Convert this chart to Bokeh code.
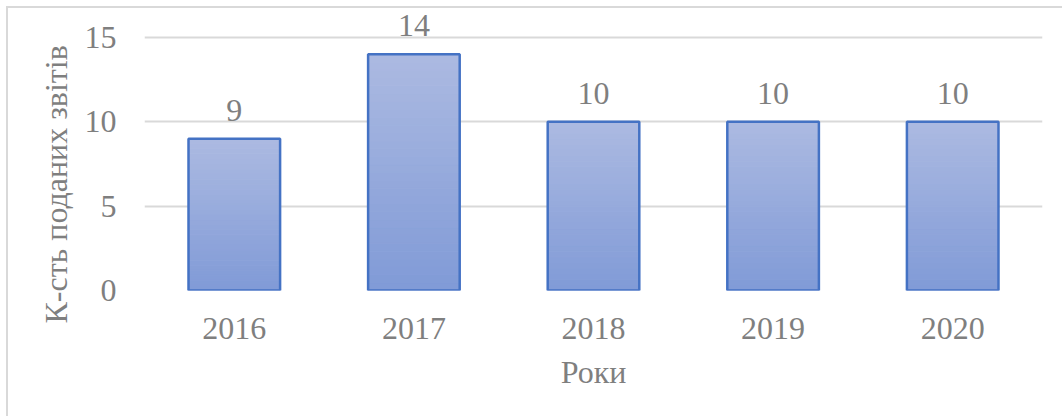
from bokeh.plotting import figure
from bokeh.models import FixedTicker, Title, FactorRange, Range1d
from bokeh.core.properties import value
from bokeh.embed import file_html
from bokeh.resources import INLINE

# ---- data ----
years = ["2016", "2017", "2018", "2019", "2020"]
counts = [9, 14, 10, 10, 10]
y_ticks = [0, 5, 10, 15]
x_title = "Роки"
y_title = "К-сть поданих звітів"

FONT = "'Liberation Serif', serif"
TXT = "#7f7f7f"
FS = "32px"

p = figure(x_range=FactorRange(*years, range_padding=0), y_range=Range1d(0, 16.6),
           width=1056, height=410, output_backend="svg", toolbar_location=None,
           min_border_left=136, min_border_right=22, min_border_top=2, min_border_bottom=128)
p.margin = (6, 0, 0, 6)
p.styles = {"border-top": "2px solid #d9d9d9", "border-left": "2px solid #d9d9d9"}
p.outline_line_color = None
p.background_fill_color = "white"

# gradient-filled bars (each bar split into slices of its own height)
n = 30
top_c = (171, 185, 225)
bot_c = (129, 155, 215)
xs, bots, tops, cols = [], [], [], []
for yr, v in zip(years, counts):
    for i in range(n):
        t = i / (n - 1)
        c = tuple(int(round(bot_c[k] + (top_c[k] - bot_c[k]) * t)) for k in range(3))
        xs.append(yr)
        bots.append(v * i / n)
        tops.append(v * (i + 1) / n)
        cols.append("#%02x%02x%02x" % c)
p.vbar(x=xs, bottom=bots, top=tops, width=0.51, fill_color=cols, line_color=cols, line_width=1)
p.vbar(x=years, top=counts, width=0.51, fill_color=None, line_color="#4472c4", line_width=2.5)

# data labels
p.text(x=years, y=counts, text=[str(c) for c in counts], text_font=value(FONT),
       text_font_size=FS, text_color=TXT, text_align="center", text_baseline="bottom",
       y_offset=-18)

# axes
p.yaxis.ticker = FixedTicker(ticks=y_ticks)
p.ygrid.ticker = FixedTicker(ticks=y_ticks)
p.ygrid.grid_line_color = "#d9d9d9"
p.ygrid.grid_line_width = 2
p.xgrid.grid_line_color = None
for ax in (p.xaxis[0], p.yaxis[0]):
    ax.axis_line_color = None
    ax.major_tick_line_color = None
    ax.minor_tick_line_color = None
    ax.major_label_text_font = FONT
    ax.major_label_text_font_size = FS
    ax.major_label_text_color = TXT
p.yaxis.major_label_standoff = 22
p.xaxis.major_label_standoff = 21
p.xaxis.axis_label = x_title
p.xaxis.axis_label_text_font = FONT
p.xaxis.axis_label_text_font_size = FS
p.xaxis.axis_label_text_font_style = "normal"
p.xaxis.axis_label_text_color = TXT
p.xaxis.axis_label_standoff = 12

# y title as a left-side title, starting below the frame bottom like the reference
p.add_layout(Title(text=y_title, align="left", offset=-33, text_font=FONT,
                   text_font_size=FS, text_font_style="normal", text_color=TXT,
                   standoff=15), "left")

open("out.html", "w").write(file_html(p, INLINE))
